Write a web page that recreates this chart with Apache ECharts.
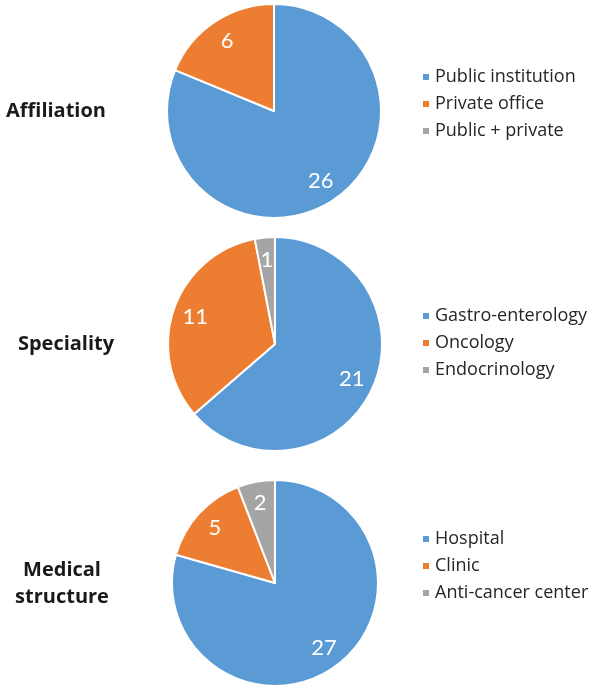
<!DOCTYPE html>
<html><head><meta charset="utf-8">
<script src="https://cdn.jsdelivr.net/npm/echarts@6/dist/echarts.min.js"></script>
<style>html,body{margin:0;padding:0;background:#fff}#c{width:597px;height:690px}</style>
</head><body><div id="c"></div>
<script>
const groupTitles = ['Affiliation', 'Speciality', 'Medical\nstructure'];
const affiliationNames = ['Public institution', 'Private office', 'Public + private'];
const affiliationValues = [26, 6, 0];
const specialityNames = ['Gastro-enterology', 'Oncology', 'Endocrinology'];
const specialityValues = [21, 11, 1];
const structureNames = ['Hospital', 'Clinic', 'Anti-cancer center'];
const structureValues = [27, 5, 2];
const colors = ['#5B9BD5', '#ED7D31', '#A5A5A5'];

const groups = [
  {names: affiliationNames, values: affiliationValues, center: [274, 111], r: 107, legendTop: 62, titleY: 111, titleX: 56},
  {names: specialityNames, values: specialityValues, center: [275, 344], r: 107, legendTop: 301, titleY: 344, titleX: 66},
  {names: structureNames, values: structureValues, center: [275, 583], r: 103, legendTop: 524, titleY: 584, titleX: 62}
];

const font = 'Lato, "Open Sans", sans-serif';
const series = [];
const legends = [];
const graphics = [];
groups.forEach((g, gi) => {
  const data = g.names.map((n, i) => ({name: n, value: g.values[i], itemStyle: {color: colors[i]}}));
  series.push({
    type: 'pie', center: g.center, radius: [0, g.r], startAngle: 90, clockwise: true,
    silent: true, animation: false,
    itemStyle: {borderColor: '#ffffff', borderWidth: 2},
    label: {show: false}, labelLine: {show: false},
    data: data
  });
  series.push({
    type: 'pie', center: g.center, radius: [g.r * 0.52, g.r], startAngle: 90, clockwise: true,
    silent: true, animation: false, legendHoverLink: false,
    itemStyle: {color: 'rgba(0,0,0,0)', borderWidth: 0},
    label: {show: true, position: 'inside', color: '#ffffff', fontSize: 22, fontFamily: font,
      formatter: p => p.value > 0 ? String(p.value) : ''},
    labelLine: {show: false},
    data: g.names.map((n, i) => ({name: n, value: g.values[i], itemStyle: {color: 'rgba(0,0,0,0)'}}))
  });
  legends.push({
    orient: 'vertical', left: 416, top: g.legendTop, data: g.names,
    icon: 'rect', itemWidth: 8, itemHeight: 8, itemGap: 7,
    selectedMode: false,
    textStyle: {fontSize: 18, color: '#262626', fontFamily: '"Open Sans", sans-serif', lineHeight: 20}
  });
  graphics.push({
    type: 'text', x: g.titleX, y: g.titleY,
    style: {text: groupTitles[gi], fill: '#1a1a1a', font: 'bold 20px "Open Sans", sans-serif',
      textAlign: 'center', textVerticalAlign: 'middle', lineHeight: 27}
  });
});

const chart = echarts.init(document.getElementById('c'));
chart.setOption({
  backgroundColor: '#ffffff',
  animation: false,
  legend: legends,
  series: series,
  graphic: graphics
});
</script></body></html>
